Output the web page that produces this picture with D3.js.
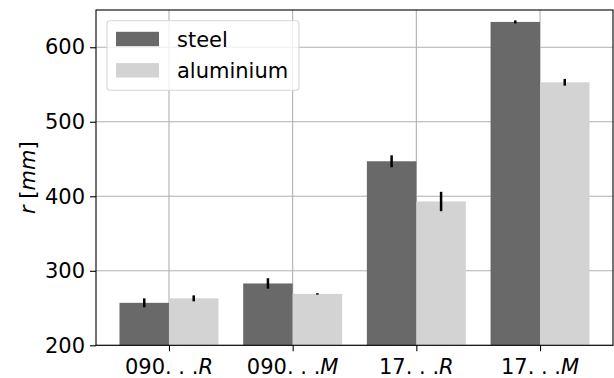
<!DOCTYPE html>
<html>
<head>
<meta charset="utf-8">
<script src="https://cdn.jsdelivr.net/npm/d3@7"></script>
<style>
  html, body { margin: 0; padding: 0; background: #fff; }
  svg { display: block; font-family: "DejaVu Sans", sans-serif; }
</style>
</head>
<body>
<svg id="chart" width="614" height="378"></svg>
<script>
// Categories: prefix + italic suffix
const categoryPrefix = ["090. . .", "090. . .", "17. . .", "17. . ."];
const categorySuffix = ["R", "M", "R", "M"];

// Mean radius r [mm] and error half-widths per material
const steelValues = [257, 283, 447, 634];
const steelErrors = [6, 7, 8, 2];
const aluminiumValues = [263, 269, 393, 553];
const aluminiumErrors = [4, 1, 13, 4.5];

const seriesNames = ["steel", "aluminium"];
const seriesColors = ["#696969", "#d3d3d3"];

const yTicks = [200, 300, 400, 500, 600];

const W = 614, H = 378;
const plot = { left: 96, right: 613, top: 10, bottom: 345.3 };
const barWidth = 0.4;
const fontSize = 21;

const svg = d3.select("#chart");

const x = d3.scaleLinear().domain([-0.59, 3.59]).range([plot.left, plot.right]);
const y = d3.scaleLinear().domain([200, 650]).range([plot.bottom, plot.top]);

const idx = d3.range(categoryPrefix.length);

// Grid
const grid = svg.append("g");
grid.selectAll("line.gx").data(idx).join("line")
  .attr("x1", d => x(d)).attr("x2", d => x(d))
  .attr("y1", plot.top).attr("y2", plot.bottom)
  .attr("stroke", "#b0b0b0").attr("stroke-width", 1.1);
grid.selectAll("line.gy").data(yTicks).join("line")
  .attr("x1", plot.left).attr("x2", plot.right)
  .attr("y1", d => y(d)).attr("y2", d => y(d))
  .attr("stroke", "#b0b0b0").attr("stroke-width", 1.1);

// Bars
const series = [
  { values: steelValues, errors: steelErrors, offset: -barWidth, color: seriesColors[0] },
  { values: aluminiumValues, errors: aluminiumErrors, offset: 0, color: seriesColors[1] }
];

series.forEach(s => {
  svg.append("g").selectAll("rect").data(idx).join("rect")
    .attr("x", i => x(i + s.offset))
    .attr("width", x(barWidth) - x(0))
    .attr("y", i => y(s.values[i]))
    .attr("height", i => y(200) - y(s.values[i]))
    .attr("fill", s.color);
});

series.forEach(s => {
  svg.append("g").selectAll("line").data(idx).join("line")
    .attr("x1", i => x(i + s.offset + barWidth / 2))
    .attr("x2", i => x(i + s.offset + barWidth / 2))
    .attr("y1", i => y(s.values[i] - s.errors[i]))
    .attr("y2", i => y(s.values[i] + s.errors[i]))
    .attr("stroke", "#000").attr("stroke-width", 2.5);
});

// Frame
svg.append("rect")
  .attr("x", plot.left).attr("y", plot.top)
  .attr("width", plot.right - plot.left).attr("height", plot.bottom - plot.top)
  .attr("fill", "none").attr("stroke", "#000").attr("stroke-width", 1.1);

// Y axis
const yAxis = svg.append("g").attr("transform", `translate(${plot.left},0)`)
  .call(d3.axisLeft(y).tickValues(yTicks).tickSize(6).tickPadding(5));
yAxis.select(".domain").remove();
yAxis.selectAll("text").attr("font-size", fontSize).attr("font-family", "DejaVu Sans").attr("fill", "#000");
yAxis.selectAll("line").attr("stroke", "#000").attr("stroke-width", 1.1);

// X axis
const xAxis = svg.append("g").attr("transform", `translate(0,${plot.bottom})`)
  .call(d3.axisBottom(x).tickValues(idx).tickSize(6).tickFormat(""));
xAxis.select(".domain").remove();
xAxis.selectAll("line").attr("stroke", "#000").attr("stroke-width", 1.1);

const xl = svg.append("g").selectAll("text").data(idx).join("text")
  .attr("x", i => x(i)).attr("y", 373.5)
  .attr("text-anchor", "middle")
  .attr("font-size", fontSize).attr("fill", "#000");
xl.append("tspan").text(i => categoryPrefix[i]);
xl.append("tspan").attr("font-style", "italic").text(i => categorySuffix[i]);

// Y label
const yl = svg.append("text")
  .attr("transform", `translate(35,${(plot.top + plot.bottom) / 2}) rotate(-90)`)
  .attr("text-anchor", "middle")
  .attr("font-size", fontSize).attr("fill", "#000");
yl.append("tspan").attr("font-style", "italic").text("r");
yl.append("tspan").text(" [");
yl.append("tspan").attr("font-style", "italic").text("mm");
yl.append("tspan").text("]");

// Legend
const lg = svg.append("g");
lg.append("rect")
  .attr("x", 107).attr("y", 20.7).attr("width", 192).attr("height", 69.5)
  .attr("rx", 3).attr("fill", "#fff").attr("fill-opacity", 0.8)
  .attr("stroke", "#d6d6d6").attr("stroke-width", 1.1);
seriesNames.forEach((name, k) => {
  const cy = 39 + k * 31.3;
  lg.append("rect").attr("x", 116).attr("y", cy - 7.2).attr("width", 43).attr("height", 14.4)
    .attr("fill", seriesColors[k]);
  lg.append("text").attr("x", 177).attr("y", cy + 7.5)
    .attr("font-size", fontSize).attr("fill", "#000").text(name);
});
</script>
</body>
</html>
